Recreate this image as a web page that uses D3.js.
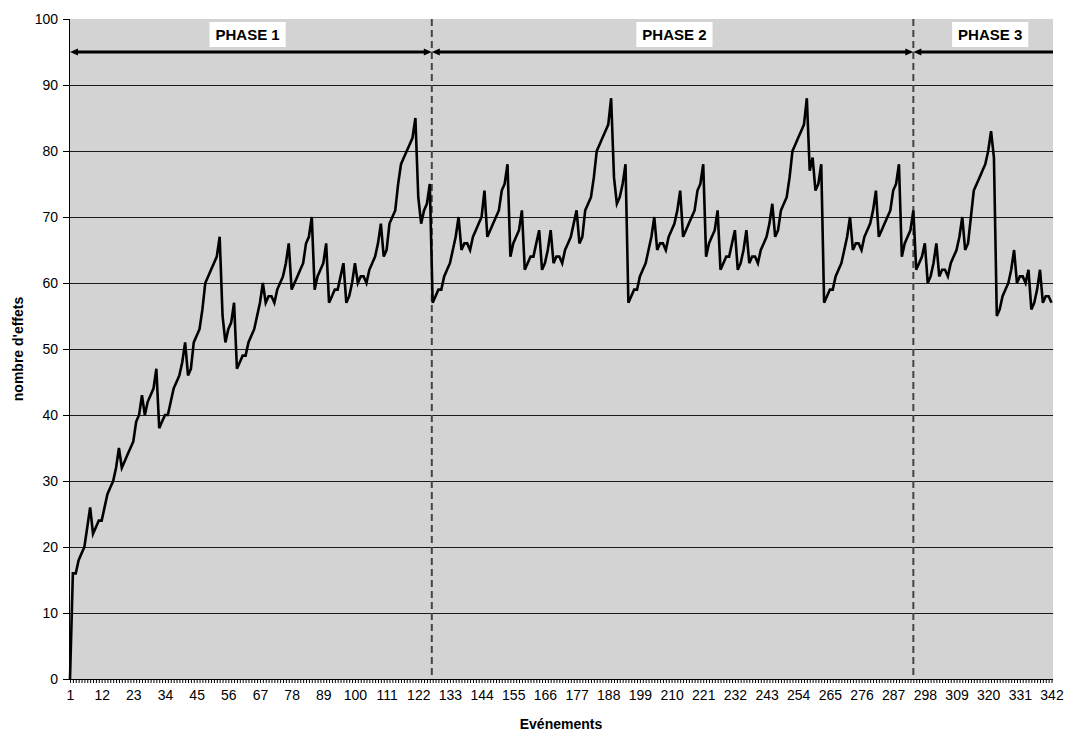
<!DOCTYPE html>
<html>
<head>
<meta charset="utf-8">
<script src="https://cdn.jsdelivr.net/npm/d3@7"></script>
<style>
body{margin:0;background:#fff;}
svg{display:block;font-family:"Liberation Sans",Arial,sans-serif;}
</style>
</head>
<body>
<div id="canvas"></div>
<script>
// nombre d'effets per événement (1..342)
var effets = [
  0,16,16,18,19,20,23,26,22,23,
  24,24,26,28,29,30,32,35,32,33,
  34,35,36,39,40,43,40,42,43,44,
  47,38,39,40,40,42,44,45,46,48,
  51,46,47,51,52,53,56,60,61,62,
  63,64,67,55,51,53,54,57,47,48,
  49,49,51,52,53,55,57,60,57,58,
  58,57,59,60,61,63,66,59,60,61,
  62,63,66,67,70,59,61,62,63,66,
  57,58,59,59,61,63,57,58,60,63,
  60,61,61,60,62,63,64,66,69,64,
  65,69,70,71,75,78,79,80,81,82,
  85,73,69,71,72,75,57,58,59,59,
  61,62,63,65,67,70,65,66,66,65,
  67,68,69,70,74,67,68,69,70,71,
  74,75,78,64,66,67,68,71,62,63,
  64,64,66,68,62,63,65,68,63,64,
  64,63,65,66,67,69,71,66,67,71,
  72,73,76,80,81,82,83,84,88,76,
  72,73,75,78,57,58,59,59,61,62,
  63,65,67,70,65,66,66,65,67,68,
  69,71,74,67,68,69,70,71,74,75,
  78,64,66,67,68,71,62,63,64,64,
  66,68,62,63,65,68,63,64,64,63,
  65,66,67,69,72,67,68,71,72,73,
  76,80,81,82,83,84,88,77,79,74,
  75,78,57,58,59,59,61,62,63,65,
  67,70,65,66,66,65,67,68,69,71,
  74,67,68,69,70,71,74,75,78,64,
  66,67,68,71,62,63,64,66,60,61,
  63,66,61,62,62,61,63,64,65,67,
  70,65,66,70,74,75,76,77,78,80,
  83,79,55,56,58,59,60,62,65,60,
  61,61,60,62,56,57,59,62,57,58,
  58,57
];

var xTickLabels = [1,12,23,34,45,56,67,78,89,100,111,122,133,144,155,166,177,188,199,210,221,232,243,254,265,276,287,298,309,320,331,342];
var yTickValues = [0,10,20,30,40,50,60,70,80,90,100];

var phaseNames = ['PHASE 1','PHASE 2','PHASE 3'];
var phaseBreaks = [126.7, 294];      // dashed separators, in événement units
var phaseLabelAt = [62.7, 211, 320.7]; // where each label box sits
var arrowValue = 95;

var W = 1069, H = 731;
var plot = {l:69, r:1053, t:19, b:679};

var svg = d3.select('#canvas')
    .append('svg')
    .attr('width', W)
    .attr('height', H);

var x = d3.scaleLinear().domain([1, effets.length]).range([70, 1051.5]);
var y = d3.scaleLinear().domain([0, 100]).range([plot.b, plot.t]);

// grey plot area
svg.append('rect')
    .attr('x', plot.l).attr('y', plot.t)
    .attr('width', plot.r - plot.l).attr('height', plot.b - plot.t)
    .attr('fill', '#d3d3d3');

// horizontal gridlines
svg.selectAll('.grid')
    .data(yTickValues.filter(function(v){ return v > 0 && v < 100; }))
    .enter()
    .append('line').attr('class','grid')
    .attr('x1', plot.l).attr('x2', plot.r)
    .attr('y1', function(d){ return Math.round(y(d)) + 0.5; })
    .attr('y2', function(d){ return Math.round(y(d)) + 0.5; })
    .attr('stroke', '#1a1a1a').attr('stroke-width', 1);

// phase separators
svg.selectAll('.sep')
    .data(phaseBreaks)
    .enter()
    .append('line').attr('class','sep')
    .attr('x1', function(d){ return x(d); }).attr('x2', function(d){ return x(d); })
    .attr('y1', plot.t).attr('y2', plot.b)
    .attr('stroke', '#444').attr('stroke-width', 2)
    .attr('stroke-dasharray', '7,4');

// the series
var line = d3.line()
    .x(function(d, i){ return x(i + 1); })
    .y(function(d){ return y(d); });

svg.append('path')
    .datum(effets)
    .attr('d', line)
    .attr('fill', 'none')
    .attr('stroke', '#000')
    .attr('stroke-width', 2.6);

// phase arrows
var bounds = [x(1), x(phaseBreaks[0]), x(phaseBreaks[1]), plot.r];
var ay = y(arrowValue);
var heads = [[true, true], [true, true], [true, false]];

function head(px, dir){
    // dir = -1 points left, +1 points right
    var len = 8, hw = 3.5;
    svg.append('path')
        .attr('d', 'M' + px + ',' + ay + 'L' + (px - dir*len) + ',' + (ay - hw) +
                   'L' + (px - dir*len) + ',' + (ay + hw) + 'Z')
        .attr('fill', '#000');
}

phaseNames.forEach(function(name, i){
    var x0 = bounds[i], x1 = bounds[i+1];
    var s0 = heads[i][0] ? x0 + 6 : x0, s1 = heads[i][1] ? x1 - 6 : x1;
    svg.append('line')
        .attr('x1', s0).attr('x2', s1)
        .attr('y1', ay).attr('y2', ay)
        .attr('stroke', '#000').attr('stroke-width', 3);
    if (heads[i][0]) head(x0, -1);
    if (heads[i][1]) head(x1, 1);

    var cx = x(phaseLabelAt[i]);
    var g = svg.append('g');
    var t = g.append('text')
        .attr('x', cx).attr('y', 40)
        .attr('text-anchor', 'middle')
        .style('font-size', '15px').style('font-weight', 'bold')
        .text(name);
    var bb = t.node().getBBox();
    g.insert('rect', 'text')
        .attr('x', cx - bb.width/2 - 6).attr('y', 22)
        .attr('width', bb.width + 12).attr('height', 25)
        .attr('fill', '#fff');
});

// y axis
var yAxis = d3.axisLeft(y)
    .tickValues(yTickValues)
    .tickSize(6)
    .tickPadding(5)
    .tickSizeOuter(0);

var gy = svg.append('g')
    .attr('transform', 'translate(' + plot.l + ',0)')
    .call(yAxis);
gy.select('.domain').remove();
gy.selectAll('line').attr('stroke', '#000');
gy.selectAll('text').style('font-size', '14px').style('font-family', '"Liberation Sans",Arial,sans-serif').attr('fill', '#000');
svg.append('line')
    .attr('x1', plot.l + 0.5).attr('x2', plot.l + 0.5)
    .attr('y1', plot.t).attr('y2', plot.b)
    .attr('stroke', '#000');

// x axis: a tick for every événement, a label every 11
var xAxis = d3.axisBottom(x)
    .tickValues(d3.range(1, effets.length + 1))
    .tickSize(4)
    .tickPadding(7)
    .tickSizeOuter(0)
    .tickFormat(function(d){ return xTickLabels.indexOf(d) >= 0 ? d : ''; });

var gx = svg.append('g')
    .attr('transform', 'translate(0,' + plot.b + ')')
    .call(xAxis);
gx.select('.domain').remove();
gx.selectAll('line').attr('stroke', '#000');
gx.selectAll('text').style('font-size', '14px').style('font-family', '"Liberation Sans",Arial,sans-serif').attr('fill', '#000');
svg.append('line')
    .attr('x1', plot.l).attr('x2', plot.r)
    .attr('y1', plot.b + 0.5).attr('y2', plot.b + 0.5)
    .attr('stroke', '#000');

// axis titles
svg.append('text')
    .attr('x', (plot.l + plot.r)/2).attr('y', 729)
    .attr('text-anchor', 'middle')
    .style('font-size', '14px').style('font-weight', 'bold')
    .text('Evénements');

svg.append('text')
    .attr('transform', 'translate(23,' + (plot.t + plot.b)/2 + ') rotate(-90)')
    .attr('text-anchor', 'middle')
    .style('font-size', '14px').style('font-weight', 'bold')
    .text("nombre d'effets");
</script>
</body>
</html>
